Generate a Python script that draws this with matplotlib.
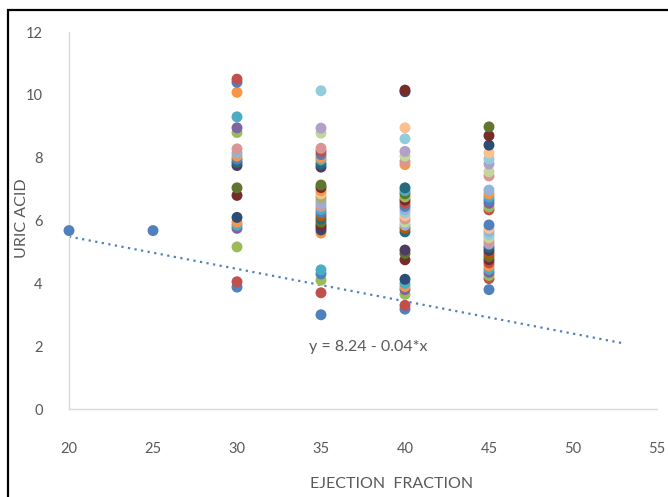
import matplotlib.pyplot as plt
from matplotlib.patches import Rectangle

# ejection fraction groups and uric acid readings
ef_groups = [20, 25, 30, 35, 40, 45]

uric_20 = [5.68]
uric_25 = [5.68]
uric_30 = [10.5, 10.4, 10.08, 9.3, 8.95, 8.8, 8.28, 8.15, 8.05, 7.95, 7.85, 7.75,
           7.04, 6.8, 6.1, 5.95, 5.85, 5.75, 5.16, 4.05, 3.88]
uric_35 = [10.13, 8.94, 8.78, 8.3, 8.2, 8.1, 8.0, 7.93, 7.8, 7.7,
           7.13, 7.05, 6.95, 6.85, 6.75, 6.65, 6.55, 6.45, 6.35, 6.25, 6.15, 6.05,
           5.95, 5.85, 5.78, 5.7, 5.6, 4.43, 4.3, 4.1, 3.7, 3.0]
uric_40 = [10.15, 10.1, 8.95, 8.6, 8.2, 8.05, 7.88, 7.78,
           7.04, 6.95, 6.85, 6.75, 6.65, 6.55, 6.45, 6.35, 6.25, 6.15, 6.05, 5.95,
           5.85, 5.75, 5.64, 5.06, 4.95, 4.75, 4.13, 4.0, 3.9, 3.8, 3.65, 3.3, 3.18]
uric_45 = [8.98, 8.7, 8.4, 8.15, 7.96, 7.8, 7.55, 7.42,
           6.97, 6.85, 6.75, 6.65, 6.55, 6.43, 6.34,
           5.86, 5.75, 5.65, 5.55, 5.45, 5.35, 5.25, 5.15, 5.05, 4.95, 4.85, 4.75,
           4.65, 4.55, 4.45, 4.35, 4.25, 4.15, 3.8]

# colour codes per point (office palette, "vary colours by point")
col_20 = ['b']
col_25 = ['b']
col_30 = ['r', 'b', 'o', 'c', 'p', 'g', 'lr', 'lb', 'o', 'b', 'C', 'P',
          'G', 'R', 'B', 'o', 'c', 'p', 'g', 'r', 'b']
col_35 = ['lc', 'lp', 'lg', 'lr', 'r', 'b', 'o', 'c', 'C', 'P',
          'G', 'R', 'o', 'lo', 'g', 'lp', 'lb', 'lr', 'c', 'b', 'O', 'C',
          'G', 'R', 'P', 'B', 'o', 'c', 'b', 'g', 'r', 'b']
col_40 = ['R', 'B', 'lo', 'lc', 'lp', 'lg', 'lr', 'o',
          'C', 'c', 'G', 'g', 'R', 'r', 'b', 'lb', 'lc', 'lo', 'lr', 'lg',
          'lb', 'O', 'C', 'P', 'G', 'R', 'B', 'c', 'o', 'p', 'g', 'r', 'b']
col_45 = ['G', 'R', 'B', 'lo', 'lc', 'lp', 'lg', 'lr',
          'lb', 'o', 'c', 'b', 'p', 'g', 'r',
          'b', 'lo', 'lb', 'lc', 'lg', 'lr', 'lp', 'C', 'P', 'O', 'G', 'R',
          'r', 'o', 'c', 'p', 'g', 'r', 'b']

palette = {
    'b': '#4F81BD', 'r': '#C0504D', 'g': '#9BBB59', 'p': '#8064A2',
    'c': '#4BACC6', 'o': '#F79646',
    'B': '#2C4D75', 'R': '#772C2A', 'G': '#5F7530', 'P': '#4D3B62',
    'C': '#276A7C', 'O': '#B65708',
    'lb': '#95B3D7', 'lr': '#D99694', 'lg': '#C3D69B', 'lp': '#B2A1C7',
    'lc': '#92CDDC', 'lo': '#FAC090',
}

# linear trendline as shown on the chart
trend_intercept = 7.55
trend_slope = -0.103
trend_x = [20, 53]
equation = 'y = 8.24 - 0.04*x'


def main():
    plt.rcParams['font.family'] = ['Lato', 'DejaVu Sans']
    fig = plt.figure(figsize=(6.68, 4.97), dpi=100)
    ax = fig.add_axes([0.1033, 0.177, 0.8802, 0.7586])

    uric_lists = [uric_20, uric_25, uric_30, uric_35, uric_40, uric_45]
    col_lists = [col_20, col_25, col_30, col_35, col_40, col_45]
    for ef, vals, cols in zip(ef_groups, uric_lists, col_lists):
        # draw bottom to top so upper points overlap lower ones like excel
        for v, c in reversed(list(zip(vals, cols))):
            ax.scatter(ef, v, s=62, color=palette[c], edgecolors='none',
                       zorder=3, clip_on=False)

    ty = [trend_intercept + trend_slope * x for x in trend_x]
    ax.plot(trend_x, ty, color='#4F81BD', linestyle=(0, (1, 2)),
            linewidth=1.6, zorder=2)
    ax.text(37.8, 1.97, equation, color='#595959', fontsize=11.5,
            ha='center', va='center')

    ax.set_xlim(20, 55)
    ax.set_ylim(0, 12)
    ax.set_xticks(range(20, 56, 5))
    ax.set_yticks(range(0, 13, 2))
    ax.tick_params(axis='both', length=0, labelcolor='#595959', labelsize=10.5)
    ax.tick_params(axis='x', pad=24)
    ax.tick_params(axis='y', pad=19)
    for side in ['top', 'right']:
        ax.spines[side].set_visible(False)
    for side in ['left', 'bottom']:
        ax.spines[side].set_color('#D9D9D9')
        ax.spines[side].set_linewidth(1)

    fig.text(392 / 668, 1 - 484 / 497, 'EJECTION  FRACTION', color='#595959',
             fontsize=11.5, ha='center', va='center')
    fig.text(22 / 668, 1 - 218 / 497, 'URIC ACID', color='#595959',
             fontsize=11.5, ha='center', va='center', rotation=90)

    # outer black frame (cut off at right and bottom like the screenshot)
    fig.patches.append(Rectangle((8 / 668, -0.1), 1.2, 1.1 - 10 / 497,
                                 transform=fig.transFigure, fill=False,
                                 edgecolor='black', linewidth=1.6))

    fig.savefig('out.png', dpi=100)


if __name__ == '__main__':
    main()
